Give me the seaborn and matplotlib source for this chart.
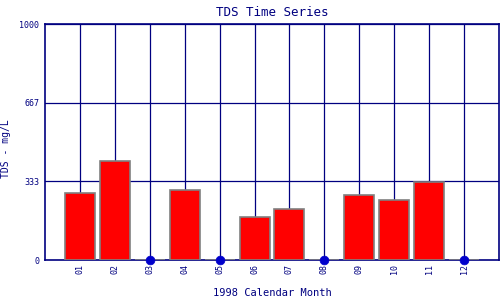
import matplotlib
matplotlib.use("Agg")
import matplotlib.pyplot as plt
import seaborn as sns
import pandas as pd

months = ['01', '02', '03', '04', '05', '06', '07', '08', '09', '10', '11', '12']
tds = [282, 421, 0, 295, 0, 181, 215, 0, 274, 253, 329, 0]
ytick_vals = [0, 1000 / 3, 2000 / 3, 1000]
ytick_labels = ['0', '333', '667', '1000']

navy = '#000080'
sns.set_style('white')
plt.rcParams['font.family'] = ['DejaVu Sans Mono', 'DejaVu Sans']

df = pd.DataFrame({'month': months, 'tds': tds})
df_zero = df[df['tds'] == 0]

fig = plt.figure(figsize=(5, 3), dpi=100)
ax = fig.add_axes([0.09, 40 / 300, 454 / 500, 236 / 300])

sns.barplot(data=df, x='month', y='tds', order=months, color='#ff0000',
            edgecolor='#808080', linewidth=1.2, width=0.86, saturation=1,
            ax=ax, zorder=3)
sns.scatterplot(data=df_zero, x='month', y='tds', color='#0000cc', s=40,
                edgecolor='#0000cc', ax=ax, zorder=5, clip_on=False)

ax.set_xlim(-1, 12)
ax.set_ylim(0, 1000)
ax.set_yticks(ytick_vals)
ax.set_yticklabels(ytick_labels)
ax.set_xticks(range(len(months)))
ax.set_xticklabels(months, rotation=90)
ax.tick_params(axis='both', length=0, labelsize=6, colors=navy, pad=3)
ax.tick_params(axis='y', pad=4)

for i in range(len(months)):
    ax.axvline(i, color=navy, lw=0.9, zorder=1)
for v in ytick_vals[1:]:
    ax.axhline(v, color=navy, lw=0.9, zorder=1)

for s in ax.spines.values():
    s.set_color(navy)
    s.set_linewidth(1.2)
    s.set_visible(True)

ax.set_title('TDS Time Series', color=navy, fontsize=9, pad=6)
ax.set_xlabel('1998 Calendar Month', color=navy, fontsize=7.5, labelpad=10)
ax.set_ylabel('TDS - mg/L', color=navy, fontsize=7)
ax.yaxis.set_label_coords(-0.075, 0.47)

fig.savefig('out.png', dpi=100, facecolor='white')
